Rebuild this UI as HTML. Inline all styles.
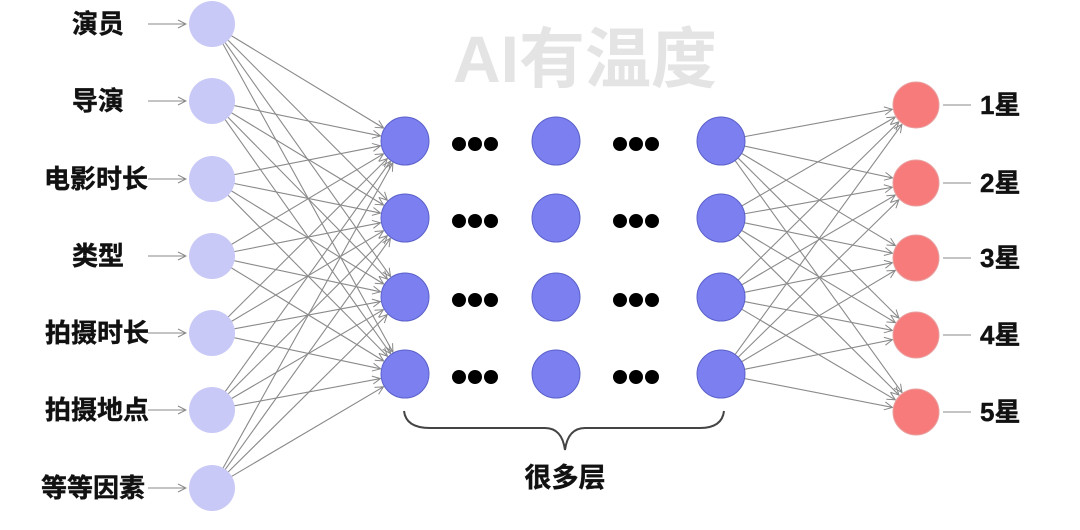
<!DOCTYPE html>
<html><head><meta charset="utf-8"><style>
html,body{margin:0;padding:0;background:#fff}
svg{display:block}
text{font-family:"Liberation Sans","Noto Sans CJK SC",sans-serif;font-weight:bold}
</style></head><body>
<svg width="1080" height="530" viewBox="0 0 1080 530" xmlns="http://www.w3.org/2000/svg">
<defs>
<marker id="a" markerWidth="10" markerHeight="10" refX="9" refY="5" orient="auto" markerUnits="userSpaceOnUse">
<path d="M1,1 L9,5 L1,9" fill="none" stroke="#888" stroke-width="1"/>
</marker>
</defs>
<text x="585" y="82" font-size="66" fill="#e4e4e4" text-anchor="middle">AI有温度</text>
<g id="lines" stroke="#8a8a8a" stroke-width="1.1" fill="none"></g>
<g id="nodes"></g>
<g font-size="26" fill="#111" stroke="#111" stroke-width="0.4">
<text x="72" y="33">演员</text>
<text x="72" y="110">导演</text>
<text x="44" y="188">电影时长</text>
<text x="72" y="265">类型</text>
<text x="45" y="342">拍摄时长</text>
<text x="45" y="419">拍摄地点</text>
<text x="41" y="497">等等因素</text>
<text x="980" y="114">1星</text>
<text x="980" y="192">2星</text>
<text x="980" y="267">3星</text>
<text x="980" y="344">4星</text>
<text x="980" y="421">5星</text>
<text x="565" y="487" text-anchor="middle" font-size="27">很多层</text>
</g>
<path d="M404,411 Q406,428 430,428 L545,428 Q562,428 565,450 Q568,428 585,428 L700,428 Q722,428 724,411" stroke="#444" stroke-width="2" fill="none"/>
</svg>
<script>
var ns="http://www.w3.org/2000/svg";
var L=document.getElementById('lines'),N=document.getElementById('nodes');
function el(p,t,a){var e=document.createElementNS(ns,t);for(var k in a)e.setAttribute(k,a[k]);p.appendChild(e);return e;}
var inY=[24,101,179,256,333,410,488],hY=[141,218,297,374],oY=[105,183,258,335,412];
function conn(x1,y1,r1,x2,y2,r2){var dx=x2-x1,dy=y2-y1,d=Math.hypot(dx,dy);
el(L,'line',{x1:x1+dx/d*r1,y1:y1+dy/d*r1,x2:x2-dx/d*(r2+1),y2:y2-dy/d*(r2+1),'marker-end':'url(#a)'});}
inY.forEach(function(y){el(L,'line',{x1:148,y1:y,x2:186,y2:y,'marker-end':'url(#a)'});
hY.forEach(function(h){conn(212,y,22,405,h,24);});});
hY.forEach(function(h){oY.forEach(function(o){conn(721,h,24,916,o,23);});});
oY.forEach(function(o){el(L,'line',{x1:943,y1:o,x2:971,y2:o});});
inY.forEach(function(y){el(N,'circle',{cx:212,cy:y,r:23,fill:'#c9c9f7'});});
hY.forEach(function(y){[405,556,721].forEach(function(x){el(N,'circle',{cx:x,cy:y,r:24,fill:'#7b7ff0',stroke:'#5a60c8','stroke-width':1});});
[459,475,491,620,636,652].forEach(function(x){el(N,'circle',{cx:x,cy:y+3,r:7,fill:'#000'});});});
oY.forEach(function(y){el(N,'circle',{cx:916,cy:y,r:23,fill:'#f77b7b',stroke:'#e8a0a0','stroke-width':1});});
</script>
</body></html>
